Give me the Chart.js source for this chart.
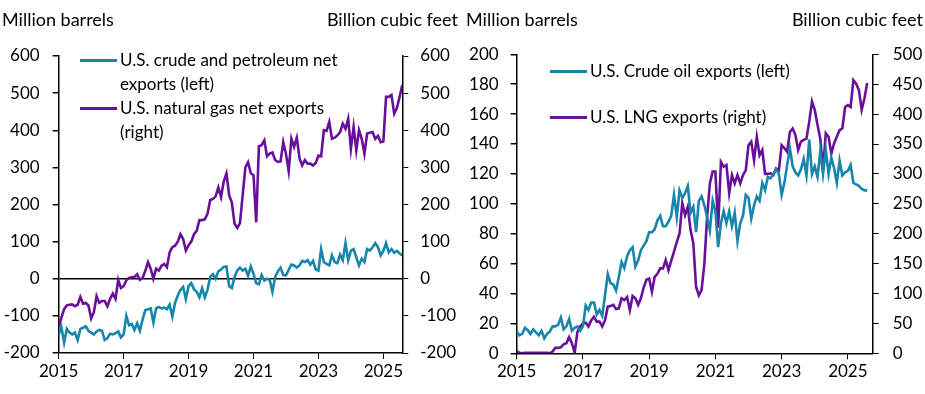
<!DOCTYPE html>
<html>
<head>
<meta charset="utf-8">
<script src="https://cdn.jsdelivr.net/npm/chart.js@4/dist/chart.umd.min.js"></script>
<style>
  body { margin: 0; background: #fff; width: 925px; height: 394px; overflow: hidden; font-family: Lato, sans-serif; color: #000; }
  .wrap { position: absolute; top: 0; height: 394px; }
  .unit { position: absolute; top: 8px; font-size: 18px; white-space: nowrap; }
  .legend { position: absolute; font-size: 17px; line-height: 24px; }
  .item { position: relative; padding-left: 40px; }
  .item span { position: absolute; left: 0; top: 11px; width: 37px; height: 3px; }
</style>
</head>
<body>
<div class="wrap" style="left:0;width:462px"><canvas id="left"></canvas></div>
<div class="wrap" style="left:462px;width:463px"><canvas id="right"></canvas></div>

<div class="unit" style="left:2px">Million barrels</div>
<div class="unit" style="right:467px">Billion cubic feet</div>
<div class="unit" style="left:466px">Million barrels</div>
<div class="unit" style="right:2px">Billion cubic feet</div>

<div class="legend" style="left:80px;top:48px">
  <div class="item"><span style="background:#1786aa"></span>U.S. crude and petroleum net<br>exports (left)</div>
  <div class="item"><span style="background:#68109c"></span>U.S. natural gas net exports<br>(right)</div>
</div>
<div class="legend" style="left:550px;top:59px">
  <div class="item" style="margin-bottom:22px"><span style="background:#1786aa"></span>U.S. Crude oil exports (left)</div>
  <div class="item"><span style="background:#68109c"></span>U.S. LNG exports (right)</div>
</div>

<script>
// monthly data, Jan 2015 onward
const startYear = 2015;

// U.S. crude and petroleum net exports, million barrels (left chart, left axis)
const petroNet = [
  -150, -130, -172, -135, -145, -150, -145, -165, -135, -132, -128, -140,
  -145, -150, -142, -138, -140, -165, -160, -148, -150, -147, -142, -158,
  -150, -100, -125, -122, -138, -120, -140, -110, -85, -82, -80, -118,
  -80, -76, -80, -78, -82, -70, -102, -65, -45, -30, -22, -55,
  -20, -12, -28, -35, -50, -25, -50, -30, 5, 12, 0, 20,
  25, 32, 33, -20, -25, 5, 22, 30, 22, 27, 8, 33,
  13, -12, -15, 10, -5, 0, -3, -35, 5, 20, 30, 10,
  9, 24, 38, 36, 30, 36, 48, 45, 50, 38, 48, 25,
  22, 80, 45, 40, 36, 63, 45, 42, 65, 50, 96, 50,
  76, 80, 58, 36, 54, 45, 80, 76, 85, 96, 85, 63,
  75, 96, 71, 80, 70, 75, 68, 63
];

// U.S. natural gas net exports, billion cubic feet (left chart, right axis)
const gasNet = [
  -130, -105, -82, -72, -70, -69, -74, -70, -49, -67, -65, -72,
  -107, -90, -47, -65, -60, -60, -74, -54, -40, -54, -3, -25,
  -20, -4, 2, 4, 5, 12, -3, 2, 21, 45, 27, 0,
  27, 22, 35, 40, 31, 71, 85, 89, 100, 120, 107, 76,
  90, 100, 120, 129, 158, 158, 160, 175, 212, 215, 222, 246,
  220, 262, 284, 225, 205, 148, 137, 150, 225, 300, 314, 284,
  279, 152, 357, 360, 373, 330, 337, 340, 320, 315, 316, 368,
  337, 290, 377, 355, 380, 325, 305, 320, 310, 310, 305, 312,
  332, 330, 400, 398, 422, 377, 380, 386, 395, 418, 404, 431,
  350, 409, 346, 400, 377, 337, 391, 393, 395, 377, 385, 368,
  370, 490, 490, 495, 445, 460, 490, 522
];

// U.S. crude oil exports, million barrels (right chart, left axis)
const crudeExports = [
  14.5, 12, 13, 17, 15.5, 13, 16, 14, 12, 15, 10, 13,
  14.5, 18, 18, 19, 24, 16, 18, 23, 15, 17, 18, 15,
  18, 32, 29, 34, 34, 26, 29, 25, 39, 53, 47, 46,
  42, 51, 61, 57, 65, 69, 71, 58, 62, 69, 72, 75,
  81, 81, 83, 89, 92, 85, 85, 88, 92, 106, 91, 109,
  104, 107, 112, 94, 98, 81, 102, 105, 99, 91, 82, 102,
  95, 71, 87, 95, 87, 95, 85, 94, 75, 87, 92, 106,
  104, 90, 99, 105, 102, 114, 109, 118, 117, 120, 123, 120,
  106, 114, 126, 137, 125, 121, 119, 123, 130, 119, 143, 120,
  125, 118, 135, 120, 136, 120, 131, 124, 114, 129, 119, 121,
  122, 126, 114, 113, 112, 110, 109, 109
];

// U.S. LNG exports, billion cubic feet (right chart, right axis)
const lngExports = [
  3, 1, 0, 1, 1, 1, 1, 1, 1, 1, 1, 1,
  0, 3, 9, 9, 10, 15, 17, 27, 17, 1, 36, 45,
  50, 51, 45, 55, 61, 53, 53, 45, 55, 78, 79, 81,
  74, 75, 92, 89, 94, 72, 96, 92, 81, 92, 110, 123,
  125, 103, 128, 133, 142, 142, 156, 139, 155, 170, 186, 200,
  251, 231, 245, 206, 184, 111, 97, 106, 150, 228, 284, 304,
  304, 210, 320, 312, 315, 268, 298, 284, 298, 284, 298, 306,
  348, 354, 323, 362, 331, 340, 300, 300, 301, 298, 309, 306,
  348, 343, 337, 370, 376, 365, 340, 354, 357, 359, 387, 421,
  407, 382, 359, 306, 368, 362, 334, 351, 362, 373, 376, 412,
  415, 412, 457, 451, 440, 407, 426, 452
];

const TEAL = '#1786aa';
const PURPLE = '#68109c';
const FONT = { family: 'Lato, sans-serif', size: 17 };

Chart.defaults.color = '#000';
Chart.defaults.font = FONT;

function pts(arr) {
  return arr.map((v, i) => ({ x: i, y: v }));
}

function fixWidth(w) {
  return scale => { scale.width = w; };
}

function makeChart(id, opts) {
  const canvas = document.getElementById(id);
  canvas.width = opts.w;
  canvas.height = 394;
  return new Chart(canvas, {
    type: 'line',
    data: {
      datasets: [
        { data: pts(opts.s1), yAxisID: 'y', borderColor: TEAL, borderWidth: 2.6, pointRadius: 0, tension: 0 },
        { data: pts(opts.s2), yAxisID: 'y2', borderColor: PURPLE, borderWidth: 2.6, pointRadius: 0, tension: 0 }
      ]
    },
    options: {
      responsive: false,
      animation: false,
      layout: { padding: { top: opts.top, left: 0, right: 0, bottom: 0 } },
      plugins: { legend: { display: false }, tooltip: { enabled: false } },
      scales: {
        x: {
          type: 'linear', min: 0, max: opts.xMax,
          afterFit: scale => { scale.height = 394 - opts.bottom; },
          border: { color: '#000', width: 1.5 },
          grid: { drawOnChartArea: false, tickLength: 6, color: '#000' },
          ticks: { stepSize: 24, includeBounds: false, padding: 2, maxRotation: 0,
                   callback: v => String(startYear + v / 12) }
        },
        y: {
          position: 'left', min: opts.y1[0], max: opts.y1[1],
          afterFit: fixWidth(opts.left),
          border: { color: '#000', width: 1.5 },
          grid: {
            tickLength: 6, tickColor: '#000',
            color: c => (opts.zero && c.tick && c.tick.value === 0) ? '#000' : 'rgba(0,0,0,0)',
            lineWidth: 1.5
          },
          ticks: { stepSize: opts.y1[2], padding: opts.padL }
        },
        y2: {
          position: 'right', min: opts.y2[0], max: opts.y2[1],
          afterFit: fixWidth(opts.w - opts.right),
          border: { color: '#000', width: 1.5 },
          grid: { drawOnChartArea: false, tickLength: 6, color: '#000' },
          ticks: { stepSize: opts.y2[2], padding: opts.padR }
        }
      }
    }
  });
}

makeChart('left', {
  w: 462, left: 58.7, right: 402.3, top: 56, bottom: 353,
  s1: petroNet, s2: gasNet, xMax: 127,
  y1: [-200, 600, 100], y2: [-200, 600, 100], zero: true, padL: 13, padR: 12
});

makeChart('right', {
  w: 463, left: 54.7, right: 410.7, top: 54.3, bottom: 353.3,
  s1: crudeExports, s2: lngExports, xMax: 129,
  y1: [0, 200, 20], y2: [0, 500, 50], zero: false, padL: 12, padR: 14
});
</script>
</body>
</html>
